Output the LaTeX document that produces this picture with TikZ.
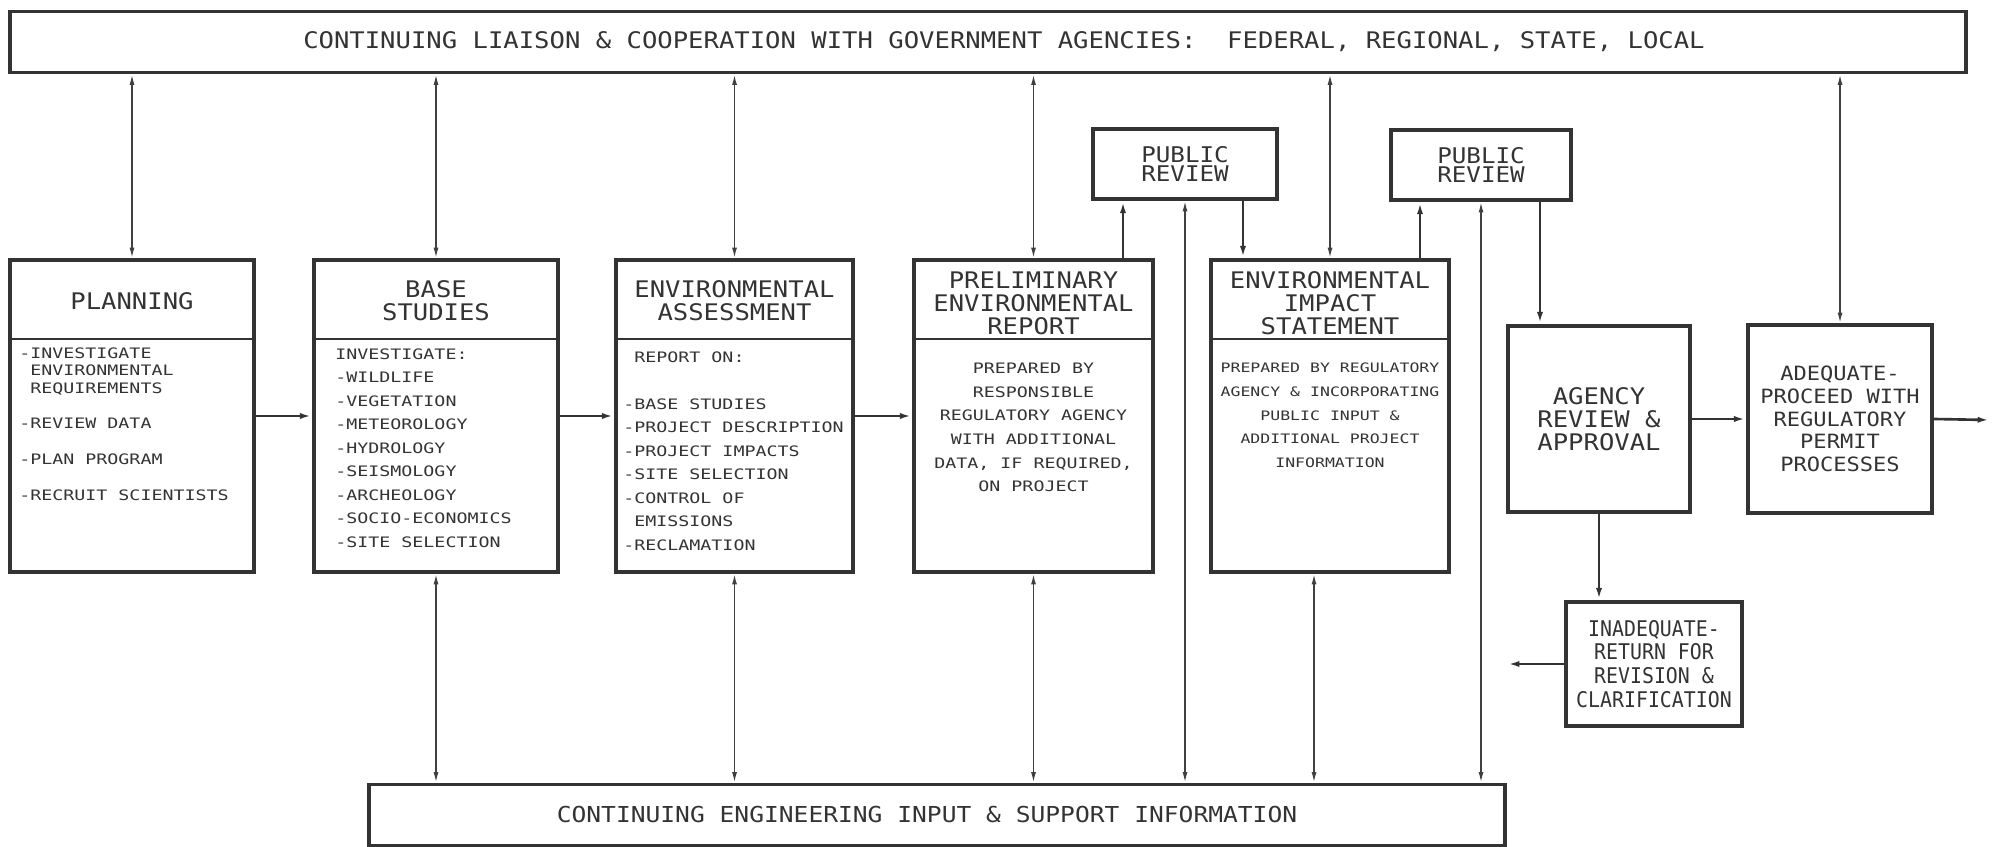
\documentclass[tikz,border=0pt]{standalone}
\usepackage{fontspec}
\newfontfamily\plotfont{DejaVu Sans Mono}[FakeStretch=1.12]
\newfontfamily\plotsmall{DejaVu Sans Mono}[FakeStretch=1.27]
\newfontfamily\plotnarrow{DejaVu Sans Mono}[FakeStretch=0.92]
\usetikzlibrary{arrows.meta,positioning}

\begin{document}
\begin{tikzpicture}[
    x=0.02cm, y=-0.02cm,
    box/.style={draw=black!80,line width=2pt,align=center,text=black!80,font=\plotfont\fontsize{13}{13}\selectfont},
    bar/.style={box,minimum height=1.22cm},
    stage/.style={box,minimum height=6.24cm},
    heading/.style={align=center,inner sep=0pt,text=black!80,font=\plotfont\fontsize{13}{13}\selectfont},
    notes/.style={align=left,inner sep=0pt,anchor=north west,text=black!80,font=\plotsmall\fontsize{8.2}{13.4}\selectfont},
    divider/.style={draw=black!80,line width=1.4pt},
    link/.style={{Latex[length=6pt,width=2.8pt]}-{Latex[length=6pt,width=2.8pt]},line width=0.9pt,black!75},
    flow/.style={-{Latex[length=7pt,width=3.4pt]},line width=1.5pt,black!80}
]
\useasboundingbox (0,0) rectangle (2005,847);

% Liaison and engineering bars
\node[bar,minimum width=39.12cm] (liaison) at (988,42) {};
\node[heading] (liaisonT) at (1004,42) {CONTINUING LIAISON \& COOPERATION WITH GOVERNMENT AGENCIES:~~FEDERAL, REGIONAL, STATE, LOCAL};
\node[bar,minimum width=22.72cm] (engineering) at (937,815) {};
\node[heading,font=\plotfont\fontsize{12.5}{13}\selectfont] (engineeringT) at (927,815) {CONTINUING ENGINEERING INPUT \& SUPPORT INFORMATION};

% Main stages
\node[stage,minimum width=4.88cm] (plan) at (132,416) {};
\node[stage,minimum width=4.88cm] (base) at (436,416) {};
\node[stage,minimum width=4.74cm] (assess) at (734.5,416) {};
\node[stage,minimum width=4.78cm] (prelim) at (1033.5,416) {};
\node[stage,minimum width=4.76cm] (eis) at (1330,416) {};
\foreach \s in {plan,base,assess,prelim,eis}
    \draw[divider] (\s.west |- 0,339) -- (\s.east |- 0,339);

\node[heading] (planT) at (132,301) {PLANNING};
\node[heading] (baseT) at (436,301) {BASE\\STUDIES};
\node[heading] (assessT) at (734.5,301) {ENVIRONMENTAL\\ASSESSMENT};
\node[heading] (prelimT) at (1033.5,303) {PRELIMINARY\\ENVIRONMENTAL\\REPORT};
\node[heading] (eisT) at (1330,303) {ENVIRONMENTAL\\IMPACT\\STATEMENT};

\node[notes,font=\plotsmall\fontsize{8.2}{10}\selectfont] (planN) at (19,347)
    {-INVESTIGATE\\\phantom{-}ENVIRONMENTAL\\\phantom{-}REQUIREMENTS\\[10.3pt]-REVIEW DATA\\[10.3pt]-PLAN PROGRAM\\[10.3pt]-RECRUIT SCIENTISTS};
\node[notes] (baseN) at (335,348)
    {INVESTIGATE:\\-WILDLIFE\\-VEGETATION\\-METEOROLOGY\\-HYDROLOGY\\-SEISMOLOGY\\-ARCHEOLOGY\\-SOCIO-ECONOMICS\\-SITE SELECTION};
\node[notes] (assessN) at (623,351)
    {\phantom{-}REPORT ON:\\[13.4pt]-BASE STUDIES\\-PROJECT DESCRIPTION\\-PROJECT IMPACTS\\-SITE SELECTION\\-CONTROL OF\\\phantom{-}EMISSIONS\\-RECLAMATION};
\node[notes,anchor=north,align=center] (prelimN) at (1033.5,363)
    {PREPARED BY\\RESPONSIBLE\\REGULATORY AGENCY\\WITH ADDITIONAL\\DATA, IF REQUIRED,\\ON PROJECT};
\node[notes,anchor=north,align=center,font=\plotsmall\fontsize{7.4}{13.4}\selectfont] (eisN) at (1330,363)
    {PREPARED BY REGULATORY\\AGENCY \& INCORPORATING\\PUBLIC INPUT \&\\ADDITIONAL PROJECT\\INFORMATION};

% Review and decision boxes
\node[box,minimum width=3.68cm,minimum height=1.4cm,font=\plotfont\fontsize{12.3}{11}\selectfont] (pubA) at (1185,164) {PUBLIC\\REVIEW};
\node[box,minimum width=3.6cm,minimum height=1.4cm,font=\plotfont\fontsize{12.3}{11}\selectfont] (pubB) at (1481,165) {PUBLIC\\REVIEW};
\node[box,minimum width=3.64cm,minimum height=3.72cm] (agency) at (1599,419) {AGENCY\\REVIEW \&\\APPROVAL};
\node[box,minimum width=3.68cm,minimum height=3.76cm,font=\plotfont\fontsize{11.2}{13}\selectfont] (adequate) at (1840,419)
    {ADEQUATE-\\PROCEED WITH\\REGULATORY\\PERMIT\\PROCESSES};
\node[box,minimum width=3.52cm,minimum height=2.48cm,font=\plotnarrow\fontsize{12.3}{13.6}\selectfont] (inadequate) at (1654,664)
    {INADEQUATE-\\RETURN FOR\\REVISION \&\\CLARIFICATION};
\coordinate (onward) at (1990,420);
\coordinate (back) at (1507,664);

% Liaison links
\foreach \s in {plan,base,assess,prelim,eis,adequate}
    \draw[link] (liaison.south -| \s.north) -- (\s.north);

% Engineering links
\foreach \s in {base,assess,prelim,pubA,pubB}
    \draw[link] (\s.south) -- (\s.south |- engineering.north);
\draw[link] ([xshift=-0.32cm]eis.south) -- ([xshift=-0.32cm]eis.south |- engineering.north);

% Main flow
\draw[flow] (plan) -- (base);
\draw[flow] (base) -- (assess);
\draw[flow] (assess) -- (prelim);
\draw[flow] ([xshift=-1.24cm]pubA.south |- prelim.north) -- ([xshift=-1.24cm]pubA.south);
\draw[flow] ([xshift=1.16cm]pubA.south) -- ([xshift=1.16cm]pubA.south |- eis.north);
\draw[flow] ([xshift=-1.22cm]pubB.south |- eis.north) -- ([xshift=-1.22cm]pubB.south);
\draw[flow] ([xshift=1.18cm]pubB.south) -- ([xshift=1.18cm]pubB.south |- agency.north);
\draw[flow] (agency) -- (adequate);
\draw[flow] (adequate.east) -- (onward);
\draw[flow] (agency.south) -- (agency.south |- inadequate.north);
\draw[flow] (inadequate.west) -- (back);

\end{tikzpicture}
\end{document}
